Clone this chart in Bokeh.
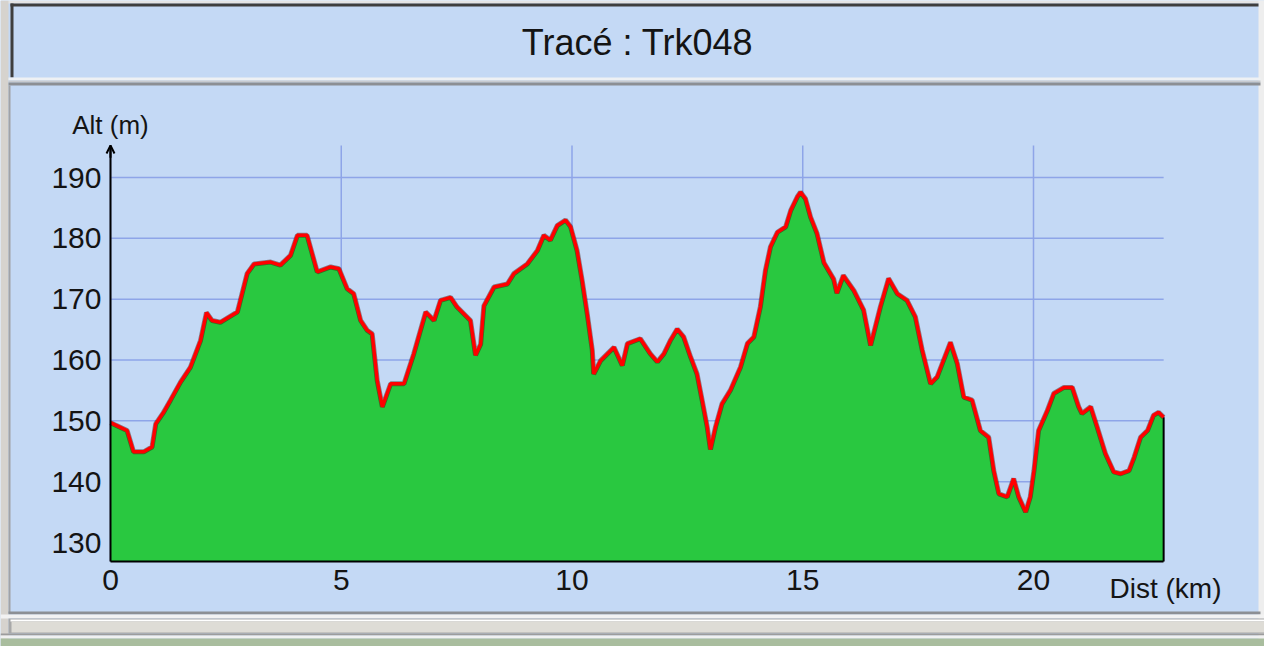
from bokeh.plotting import figure
from bokeh.models import Range1d, FixedTicker, Label, Arrow, OpenHead, LinearAxis
from bokeh.embed import file_html
from bokeh.resources import INLINE

# ---------------- data ----------------
DIST_KM = [0.00, 0.36, 0.50, 0.72, 0.90, 0.98, 1.15, 1.30, 1.52, 1.73,
           1.95, 2.08, 2.20, 2.38, 2.75, 2.96, 3.11, 3.47, 3.68, 3.90,
           4.05, 4.26, 4.48, 4.77, 4.95, 5.13, 5.27, 5.42, 5.56, 5.67,
           5.78, 5.89, 6.07, 6.36, 6.57, 6.83, 7.01, 7.15, 7.37, 7.51,
           7.80, 7.91, 8.02, 8.09, 8.31, 8.60, 8.74, 9.03, 9.25, 9.39,
           9.53, 9.68, 9.86, 9.97, 10.11, 10.22, 10.33, 10.44, 10.47, 10.62,
           10.91, 11.09, 11.20, 11.48, 11.70, 11.85, 11.99, 12.13, 12.28, 12.42,
           12.57, 12.71, 12.82, 12.93, 13.00, 13.11, 13.25, 13.43, 13.65, 13.80,
           13.94, 14.08, 14.19, 14.30, 14.45, 14.63, 14.74, 14.88, 14.95, 15.06,
           15.17, 15.31, 15.46, 15.67, 15.74, 15.88, 16.11, 16.32, 16.47, 16.68,
           16.86, 17.05, 17.26, 17.44, 17.59, 17.77, 17.91, 18.20, 18.35, 18.49,
           18.67, 18.85, 19.03, 19.14, 19.25, 19.43, 19.57, 19.68, 19.83, 19.93,
           20.01, 20.11, 20.30, 20.44, 20.66, 20.84, 20.98, 21.05, 21.24, 21.38,
           21.56, 21.74, 21.89, 22.07, 22.18, 22.32, 22.47, 22.60, 22.71, 22.82]

ALT_M = [149.7, 148.4, 144.9, 144.9, 145.7, 149.5, 151.4, 153.4, 156.4, 158.8,
         163.2, 167.8, 166.5, 166.2, 167.9, 174.2, 175.8, 176.1, 175.6, 177.2,
         180.5, 180.5, 174.5, 175.3, 175.0, 171.7, 170.9, 166.5, 164.9, 164.3,
         156.6, 152.3, 156.1, 156.1, 161.0, 167.9, 166.5, 169.8, 170.3, 168.7,
         166.5, 160.8, 162.6, 168.9, 172.0, 172.5, 174.2, 175.8, 178.0, 180.5,
         179.7, 182.1, 183.0, 181.9, 178.0, 173.1, 167.6, 161.6, 157.7, 159.9,
         162.1, 159.1, 162.7, 163.5, 161.0, 159.7, 161.0, 163.2, 165.1, 163.8,
         160.5, 157.7, 153.4, 149.0, 145.3, 149.0, 152.8, 155.0, 158.8, 162.7,
         163.8, 168.7, 174.7, 178.6, 181.0, 181.9, 184.6, 186.8, 187.6, 186.5,
         183.5, 180.8, 176.0, 173.3, 171.0, 173.9, 171.4, 168.2, 162.4, 168.7,
         173.4, 170.9, 169.8, 167.1, 161.6, 156.1, 157.2, 162.9, 159.4, 153.9,
         153.4, 148.4, 147.3, 141.8, 138.0, 137.5, 140.5, 137.5, 135.0, 137.5,
         141.8, 148.4, 151.7, 154.5, 155.5, 155.5, 152.3, 151.2, 152.3, 149.0,
         144.6, 141.6, 141.3, 141.8, 144.0, 147.3, 148.4, 150.9, 151.4, 150.6]

X_TICKS = [0, 5, 10, 15, 20]
Y_TICKS = [130, 140, 150, 160, 170, 180, 190]

TITLE = "Tracé : Trk048"
Y_LABEL = "Alt (m)"
X_LABEL = "Dist (km)"

assert len(DIST_KM) == len(ALT_M)

# ---------------- layout (canvas pixels) ----------------
W, H = 1264, 646
X0_PX, KM_PX = 110.0, 46.15      # canvas x of 0 km, pixels per km
Y130_PX, M_PX = 542.0, 6.083     # canvas y of 130 m, pixels per metre


def dx(px):
    return (px - X0_PX) / KM_PX


def dy(py):
    return 130.0 + (Y130_PX - py) / M_PX


BASE = dy(561)   # bottom of the filled profile
TOP = dy(145)    # top of the altitude axis arrow

BLUE = "#C4D9F5"
GREEN = "#29C840"
GRID = "#8EA5E8"
FONT = "Liberation Sans"
INK = "#141414"

p = figure(width=W, height=H,
           x_range=Range1d(dx(0), dx(W)), y_range=Range1d(dy(H), dy(0)),
           output_backend="svg", toolbar_location=None, min_border=0,
           x_axis_location=None, y_axis_location=None,
           outline_line_color=None,
           background_fill_color=BLUE, border_fill_color=BLUE)
p.xgrid.visible = False
p.ygrid.visible = False


def band(x0, x1, y0, y1, color):
    p.quad(left=dx(x0), right=dx(x1), top=dy(y0), bottom=dy(y1),
           fill_color=color, line_color=None)


# window chrome
band(0, W, 0, 3, "#E4E4E4")
band(0, 8, 0, H, "#D6D3CE")
band(1258, W, 0, H, "#EEEEEE")
band(10, 1258, 3, 6, "#3E3E3E")
band(10, 13, 3, 77, "#3E3E3E")
band(8, 1260, 77, 80, "#EEF1F4")
band(8, 1260, 80, 82, "#C8CBD0")
band(8, 1260, 82, 85, "#8C8F94")
band(8, 10, 85, 613, "#A0A2A6")
band(8, 1260, 611, 614, "#8C8F94")
band(0, W, 614, 618, "#F2F2F2")
band(8, W, 618, 633, "#A8A8A8")
band(10, W, 619, 621, "#FFFFFF")
band(11, W, 621, 632, "#DEDCD6")
band(0, W, 633, 635, "#9C9C9C")
band(0, W, 635, 638, "#F0F0F0")
band(0, W, 638, H, "#A9BD9E")

# grid lines
p.segment(x0=X_TICKS, x1=X_TICKS, y0=[BASE] * len(X_TICKS), y1=[TOP] * len(X_TICKS),
          line_color=GRID, line_width=1.5)
p.segment(x0=[0] * len(Y_TICKS), x1=[DIST_KM[-1]] * len(Y_TICKS), y0=Y_TICKS, y1=Y_TICKS,
          line_color=GRID, line_width=1.5)

# profile
p.varea(x=DIST_KM, y1=[BASE] * len(DIST_KM), y2=ALT_M, fill_color=GREEN)
p.segment(x0=[DIST_KM[-1]], x1=[DIST_KM[-1]], y0=[BASE], y1=[ALT_M[-1]],
          line_color="black", line_width=2)
p.line(DIST_KM, ALT_M, line_color="#3A0A00", line_width=5, line_alpha=0.45)
p.line(DIST_KM, ALT_M, line_color="#FF0000", line_width=3.5)

# axes
yax = LinearAxis(fixed_location=0, bounds=(BASE, TOP),
                 ticker=FixedTicker(ticks=Y_TICKS))
xax = LinearAxis(fixed_location=BASE, bounds=(0, DIST_KM[-1]),
                 ticker=FixedTicker(ticks=X_TICKS))
for ax in (xax, yax):
    ax.axis_line_color = "black"
    ax.axis_line_width = 2
    ax.major_tick_line_color = None
    ax.minor_tick_line_color = None
    ax.major_tick_in = 0
    ax.major_tick_out = 0
    ax.minor_tick_in = 0
    ax.minor_tick_out = 0
    ax.major_label_text_font = FONT
    ax.major_label_text_font_size = "30px"
    ax.major_label_text_color = INK
yax.major_label_standoff = 9
xax.major_label_standoff = 8
p.add_layout(yax, "left")
p.add_layout(xax, "below")

p.add_layout(Arrow(x_start=0, y_start=TOP - 2, x_end=0, y_end=TOP,
                   line_color="black", line_width=2,
                   end=OpenHead(size=8, line_color="black", line_width=2)))

# texts
p.add_layout(Label(x=dx(637), y=dy(41.5), text=TITLE, text_align="center",
                   text_baseline="middle", text_font=FONT,
                   text_font_size="36px", text_color=INK))
p.add_layout(Label(x=0, y=dy(124), text=Y_LABEL, text_align="center",
                   text_baseline="middle", text_font=FONT,
                   text_font_size="26px", text_color=INK))
p.add_layout(Label(x=dx(1109), y=dy(588), text=X_LABEL, text_align="left",
                   text_baseline="middle", text_font=FONT,
                   text_font_size="28px", text_color=INK))

open("out.html", "w").write(file_html(p, INLINE))
